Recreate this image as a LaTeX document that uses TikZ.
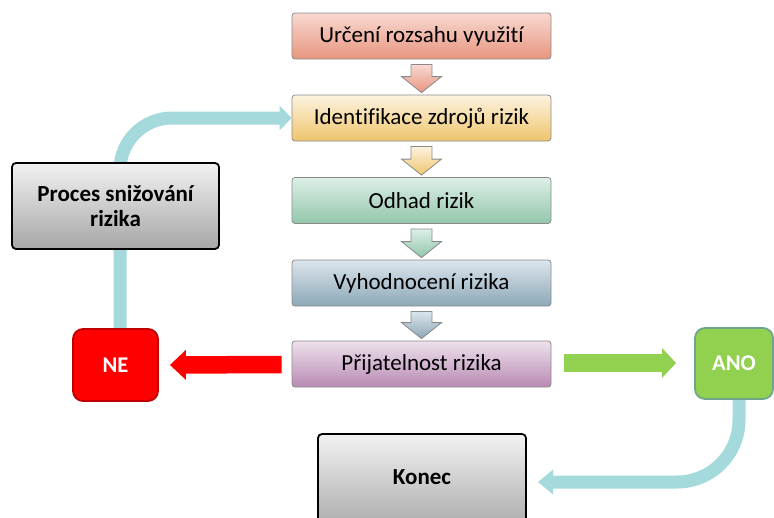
\documentclass[tikz,border=0pt]{standalone}
\usepackage{fontspec}
\setmainfont{Carlito}[Ligatures=NoCommon]
\usetikzlibrary{calc,arrows.meta}
\definecolor{aTop}{HTML}{F8D9D2}\definecolor{aBot}{HTML}{E8957E}
\definecolor{bTop}{HTML}{FDF3E0}\definecolor{bBot}{HTML}{EFC56C}
\definecolor{cTop}{HTML}{DDEFE6}\definecolor{cBot}{HTML}{93C6AC}
\definecolor{dTop}{HTML}{DCE5EC}\definecolor{dBot}{HTML}{8CA8B8}
\definecolor{eTop}{HTML}{EEE1EC}\definecolor{eBot}{HTML}{B88AB4}
\definecolor{gTop}{HTML}{F2F2F2}\definecolor{gBot}{HTML}{A6A6A6}
\definecolor{boxline}{HTML}{8A8A8A}
\definecolor{neFill}{HTML}{FF0000}\definecolor{neLine}{HTML}{C00000}
\definecolor{anoFill}{HTML}{92D050}\definecolor{anoLine}{HTML}{6FA58A}
\definecolor{tealc}{HTML}{A5DADC}
\newcommand\hollowdown[4]{%
  \path[draw=boxline, line width=0.8pt, top color=#3, bottom color=#4]
    ($(#1.south)+(-10.5,5)$) -- ($(#1.south)+(10.5,5)$) --
    ($(#2.north)+(10.5,-18)$) -- ($(#2.north)+(20,-18)$) --
    ($(#2.north)+(0,-2)$) -- ($(#2.north)+(-20,-18)$) --
    ($(#2.north)+(-10.5,-18)$) -- cycle;}
\begin{document}
\begin{tikzpicture}[x=1pt,y=-1pt,
  mainbox/.style={draw=boxline, line width=0.8pt, rounded corners=3pt,
    minimum width=259pt, minimum height=46pt, inner sep=0pt,
    font=\fontsize{23}{26}\selectfont},
  graybox/.style={draw=black, line width=1.8pt, rounded corners=4pt,
    top color=gTop, bottom color=gBot, inner sep=0pt, align=center,
    font=\fontsize{23}{25}\selectfont\bfseries},
  decision/.style={line width=1.8pt, rounded corners=10pt, inner sep=0pt,
    font=\fontsize{22.5}{25}\selectfont\bfseries, text=white},
  tealconn/.style={draw=tealc, line width=13pt},
  flatarrow/.style={line width=17.5pt}
]
\useasboundingbox (0,0) rectangle (774,517);
\clip (0,0) rectangle (774,517);

% main chain
\node[mainbox, top color=aTop, bottom color=aBot] (b1) at (421.5,36) {Určení rozsahu využití};
\node[mainbox, top color=bTop, bottom color=bBot] (b2) at (421.5,118) {Identifikace zdrojů rizik};
\node[mainbox, top color=cTop, bottom color=cBot] (b3) at (421.5,200.5) {Odhad rizik};
\node[mainbox, top color=dTop, bottom color=dBot] (b4) at (421.5,283) {Vyhodnocení rizika};
\node[mainbox, top color=eTop, bottom color=eBot] (b5) at (421.5,364) {Přijatelnost rizika};

\hollowdown{b1}{b2}{aTop}{aBot}
\hollowdown{b2}{b3}{bTop}{bBot}
\hollowdown{b3}{b4}{cTop}{cBot}
\hollowdown{b4}{b5}{dTop}{dBot}

% side nodes (positions)
\node[decision, minimum width=85pt, minimum height=72pt] (ne) at (115.5,365) {};
\node[decision, minimum width=78pt, minimum height=71pt] (ano) at (734,363.5) {};
\coordinate (kend) at (538,482);

% teal connectors (behind boxes)
\draw[tealconn, rounded corners=52pt, -{Triangle[width=24pt,length=12pt]}]
  ($(ne.north)+(4.5,0)$) |- (b2.west);
\draw[tealconn, rounded corners=62pt, -{Triangle[width=24pt,length=15pt]}]
  ($(ano.south)+(5,0)$) |- (kend);

% boxes on top
\node[graybox, minimum width=207pt, minimum height=86pt] (proc) at (115.5,206)
  {Proces snižování\\rizika};
\node[graybox, minimum width=208pt, minimum height=100pt] (konec) at (422,484) {};
\node[font=\fontsize{23}{25}\selectfont\bfseries] at (422,477) {Konec};

\node[decision, draw=neLine, fill=neFill, minimum width=85pt, minimum height=72pt] at (ne) {NE};
\node[decision, draw=anoLine, fill=anoFill, minimum width=78pt, minimum height=71pt] at (ano) {ANO};

% yes / no arrows
\draw[flatarrow, draw=neFill, -{Triangle[width=29pt,length=16pt]}]
  ($(b5.west)+(-10,0.5)$) -- ($(ne.east)+(11,0)$);
\draw[flatarrow, draw=anoFill, -{Triangle[width=29pt,length=14pt]}]
  ($(b5.east)+(13,-1)$) -- ($(ano.west)+(-18,-0.5)$);
\end{tikzpicture}
\end{document}
